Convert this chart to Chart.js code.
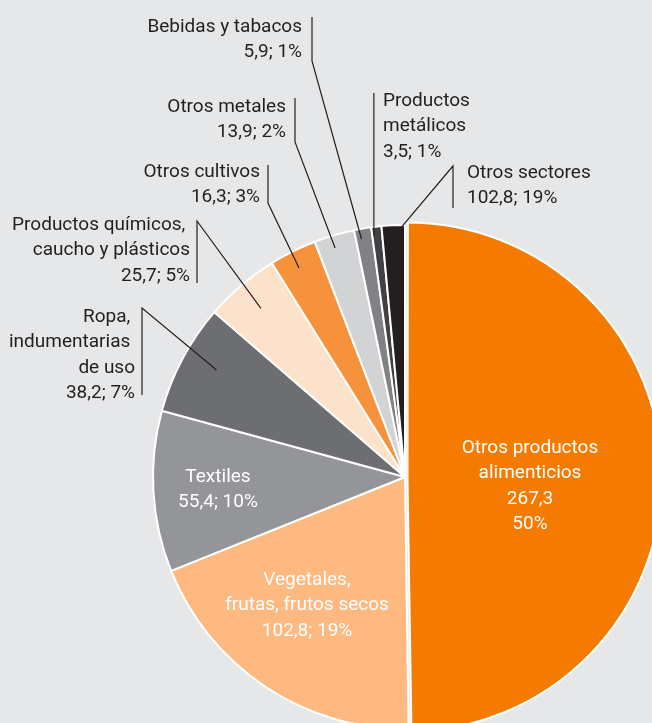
<!DOCTYPE html>
<html>
<head>
<meta charset="utf-8">
<script src="https://cdn.jsdelivr.net/npm/chart.js@4.4.0/dist/chart.umd.min.js"></script>
<style>
html, body { margin: 0; padding: 0; background: #e6e7e8; }
#wrap { position: relative; width: 652px; height: 723px; overflow: hidden; }
canvas { display: block; }
</style>
</head>
<body>
<div id="wrap"><canvas id="c" width="652" height="723"></canvas></div>
<script>
// ---- data ----
const categories = [
  "Otros productos alimenticios",
  "Vegetales, frutas, frutos secos",
  "Textiles",
  "Ropa, indumentarias de uso",
  "Productos químicos, caucho y plásticos",
  "Otros cultivos",
  "Otros metales",
  "Bebidas y tabacos",
  "Productos metálicos",
  "Otros sectores"
];
const categoryLines = [
  ["Otros productos", "alimenticios"],
  ["Vegetales,", "frutas, frutos secos"],
  ["Textiles"],
  ["Ropa, ", "indumentarias ", "de uso"],
  ["Productos químicos, ", "caucho y plásticos"],
  ["Otros cultivos"],
  ["Otros metales"],
  ["Bebidas y tabacos"],
  ["Productos", "metálicos"],
  ["Otros sectores"]
];
const values = [267.3, 102.8, 55.4, 38.2, 25.7, 16.3, 13.9, 5.9, 3.5, 8.0];
const valueLabels = ["267,3", "102,8", "55,4", "38,2", "25,7", "16,3", "13,9", "5,9", "3,5", "102,8"];
const percentLabels = ["50%", "19%", "10%", "7%", "5%", "3%", "2%", "1%", "1%", "19%"];

// ---- style ----
const colors = ["#f47b00", "#fdb97f", "#939598", "#6d6e71", "#fde2cb", "#f7923c", "#d1d3d4", "#808285", "#414042", "#231f20"];
const offsets = [10, 0, 0, 0, 0, 0, 0, 0, 0, 0];

const labelLayout = [
  { x: 530, y: 453, align: "center", color: "#ffffff", split: true },
  { x: 307, y: 585, align: "center", color: "#ffffff" },
  { x: 218, y: 482, align: "center", color: "#ffffff" },
  { x: 135, y: 322, align: "right", bar: { x: 142, top: 308, bottom: 395 }, knee: "top", t: 0.56, k: 0.86 },
  { x: 190, y: 230, align: "right", bar: { x: 197, top: 221, bottom: 283 }, knee: "top", t: 0.5, k: 0.88 },
  { x: 260, y: 177, align: "right", bar: { x: 268, top: 165, bottom: 203 }, knee: "bottom", t: 0.46, k: 0.93 },
  { x: 286, y: 112, align: "right", bar: { x: 295, top: 98, bottom: 142 }, knee: "bottom", t: 0.43, k: 0.95 },
  { x: 302, y: 32, align: "right", bar: { x: 312, top: 17, bottom: 61 }, knee: "bottom", t: 0.33, k: 0.96 },
  { x: 383, y: 106, align: "left", bar: { top: 93 }, knee: "vertical", t: 0.15, k: 0.965 },
  { x: 467, y: 178, align: "left", bar: { x: 453, top: 166, bottom: 208 }, knee: "top", t: 0.83, k: 0.99 }
];

const LINE_H = 25.3;
const DARK = "#231f20";
const REF_TEXT = "Bebidas y tabacos";
const REF_WIDTH = 152;

// prefer a condensed face (like the reference) when the installed Roboto supports it
function pickFont(ctx) {
  ctx.save();
  ctx.font = "19px Roboto";
  const w0 = ctx.measureText(REF_TEXT).width;
  ctx.font = "condensed 21px Roboto";
  const applied = ctx.font;
  const w1 = ctx.measureText(REF_TEXT).width;
  ctx.restore();
  if (applied.indexOf("condensed") >= 0 && w1 < w0 * 0.97) {
    const size = Math.min(22, 21 * REF_WIDTH / w1);
    return "condensed " + size.toFixed(1) + "px Roboto";
  }
  return "19px Roboto";
}

const labelPlugin = {
  id: "pieLabels",
  afterDatasetsDraw(chart) {
    const ctx = chart.ctx;
    const meta = chart.getDatasetMeta(0);
    const font = pickFont(ctx);
    ctx.save();
    ctx.strokeStyle = DARK;
    ctx.lineWidth = 1.2;
    meta.data.forEach((arc, i) => {
      const L = labelLayout[i];
      if (!L.bar) return;
      const p = arc.getProps(["x", "y", "startAngle", "endAngle", "outerRadius"], true);
      const a = p.startAngle + L.t * (p.endAngle - p.startAngle);
      const ex = p.x + Math.cos(a) * p.outerRadius * L.k;
      const ey = p.y + Math.sin(a) * p.outerRadius * L.k;
      ctx.beginPath();
      if (L.knee === "vertical") {
        ctx.moveTo(ex, L.bar.top);
        ctx.lineTo(ex, ey);
      } else if (L.knee === "top") {
        ctx.moveTo(L.bar.x, L.bar.bottom);
        ctx.lineTo(L.bar.x, L.bar.top);
        ctx.lineTo(ex, ey);
      } else {
        ctx.moveTo(L.bar.x, L.bar.top);
        ctx.lineTo(L.bar.x, L.bar.bottom);
        ctx.lineTo(ex, ey);
      }
      ctx.stroke();
    });
    ctx.font = font;
    ctx.textBaseline = "alphabetic";
    meta.data.forEach((arc, i) => {
      const L = labelLayout[i];
      const lines = categoryLines[i].slice();
      if (L.split) {
        lines.push(valueLabels[i]);
        lines.push(percentLabels[i]);
      } else {
        lines.push(valueLabels[i] + "; " + percentLabels[i]);
      }
      ctx.fillStyle = L.color || DARK;
      ctx.textAlign = L.align;
      lines.forEach((s, j) => ctx.fillText(s, L.x, L.y + j * LINE_H));
    });
    ctx.restore();
  }
};

new Chart(document.getElementById("c"), {
  type: "pie",
  data: {
    labels: categories,
    datasets: [{
      data: values,
      backgroundColor: colors,
      borderColor: "#ffffff",
      borderWidth: 2,
      offset: offsets,
      hoverOffset: 0,
      radius: 252,
      clip: false
    }]
  },
  options: {
    responsive: false,
    animation: false,
    events: [],
    layout: { padding: { left: 158, right: 0, top: 231, bottom: 0 } },
    plugins: { legend: { display: false }, tooltip: { enabled: false } }
  },
  plugins: [labelPlugin]
});
</script>
</body>
</html>
